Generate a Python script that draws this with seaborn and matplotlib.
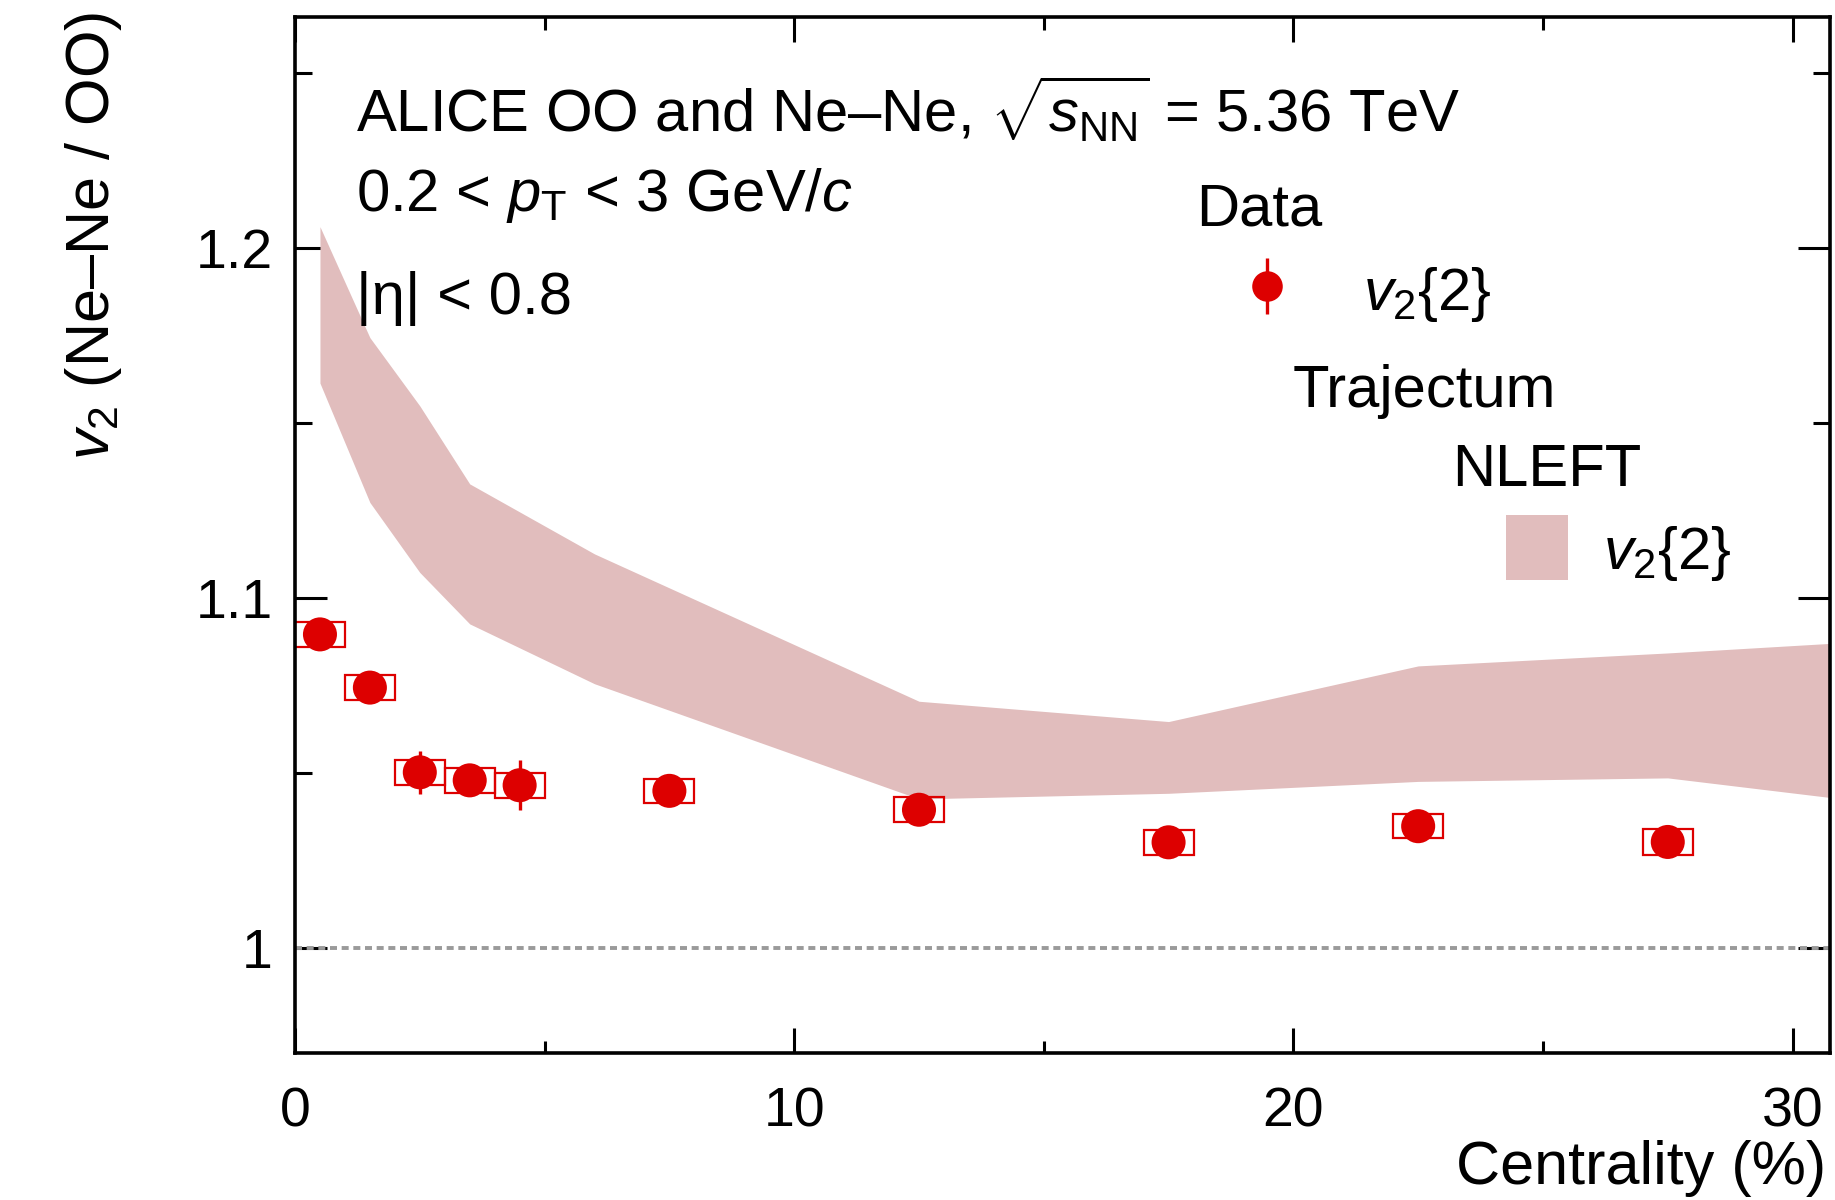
import matplotlib
matplotlib.use("Agg")
import matplotlib.pyplot as plt
import numpy as np
import pandas as pd
import seaborn as sns
from matplotlib.patches import Rectangle
from matplotlib.ticker import FixedLocator, FixedFormatter, MultipleLocator

# ---- data ----
centrality = [0.5, 1.5, 2.5, 3.5, 4.5, 7.5, 12.5, 17.5, 22.5, 27.5]
ratio = [1.0896, 1.0744, 1.0502, 1.0479, 1.0465, 1.0449, 1.0395, 1.0302, 1.0348, 1.0303]
stat_err = [0.0015, 0.0015, 0.0062, 0.0015, 0.0071, 0.0015, 0.0015, 0.0015, 0.0015, 0.0015]
sys_err = [0.0035, 0.0035, 0.0035, 0.0035, 0.0035, 0.0035, 0.0036, 0.0036, 0.0035, 0.0036]
bin_width = [1.0] * len(centrality)

nleft_x = [0.5, 1.5, 2.5, 3.5, 6.0, 12.5, 17.5, 22.5, 27.5, 32.5]
nleft_low = [1.1614, 1.1273, 1.1073, 1.0926, 1.0755, 1.0426, 1.0442, 1.0476, 1.0486, 1.0400]
nleft_high = [1.2061, 1.1744, 1.1549, 1.1326, 1.1126, 1.0705, 1.0647, 1.0806, 1.0843, 1.0885]

xticks = [0, 10, 20, 30]
xtick_labels = ["0", "10", "20", "30"]
yticks = [1.0, 1.1, 1.2]
ytick_labels = ["1", "1.1", "1.2"]

RED = "#dd0000"
BAND = "#e1bdbd"

df = pd.DataFrame({"centrality": centrality, "ratio": ratio})

sns.set_theme(style="ticks")
plt.rcParams["font.family"] = ["Liberation Sans", "DejaVu Sans"]
plt.rcParams["mathtext.fontset"] = "custom"
plt.rcParams["mathtext.rm"] = "Liberation Sans"
plt.rcParams["mathtext.it"] = "Liberation Sans:italic"
plt.rcParams["mathtext.bf"] = "Liberation Sans:bold"
for key in ["text.color", "axes.labelcolor", "xtick.color", "ytick.color", "axes.edgecolor"]:
    plt.rcParams[key] = "black"

fig = plt.figure(figsize=(18.35, 12), dpi=100)
ax = fig.add_axes([295 / 1835, 1 - 1053 / 1200, 1535 / 1835, 1036 / 1200])

# model band
ax.fill_between(nleft_x, nleft_low, nleft_high, color=BAND, lw=0, zorder=1)

# reference line at unity
ax.axhline(1.0, color="#9a9a9a", lw=2.8, ls=(0, (1.8, 1.2)), zorder=1)

# systematic boxes
ax.bar(centrality, [2 * s for s in sys_err], width=bin_width,
       bottom=[r - s for r, s in zip(ratio, sys_err)],
       fill=False, edgecolor=RED, lw=1.6, zorder=2)

# statistical errors + points
ax.errorbar(centrality, ratio, yerr=stat_err, fmt="none", ecolor=RED,
            elinewidth=2.4, capsize=0, zorder=3)
sns.scatterplot(data=df, x="centrality", y="ratio", ax=ax, color=RED,
                s=24.5 ** 2, edgecolor="none", zorder=4, legend=False)

ax.set_xlim(0, 30.75)
ax.set_ylim(0.97, 1.266)
ax.set_xlabel("")
ax.set_ylabel("")

ax.xaxis.set_major_locator(FixedLocator(xticks))
ax.xaxis.set_major_formatter(FixedFormatter(xtick_labels))
ax.xaxis.set_minor_locator(MultipleLocator(5))
ax.yaxis.set_major_locator(FixedLocator(yticks))
ax.yaxis.set_major_formatter(FixedFormatter(ytick_labels))
ax.yaxis.set_minor_locator(MultipleLocator(0.05))

for s in ax.spines.values():
    s.set_linewidth(2.6)
    s.set_color("black")
    s.set_visible(True)

ax.tick_params(axis="x", which="major", direction="in", length=18, width=2.2,
               top=True, bottom=True, labelsize=40, pad=24)
ax.tick_params(axis="x", which="minor", direction="in", length=9, width=2.2,
               top=True, bottom=True)
ax.tick_params(axis="y", which="major", direction="in", length=23, width=2.2,
               left=True, right=True, labelsize=40, pad=16)
ax.tick_params(axis="y", which="minor", direction="in", length=12, width=2.2,
               left=True, right=True)

# axis titles
fig.text(1826 / 1835, 1 - 1184 / 1200, "Centrality (%)", ha="right",
         va="baseline", fontsize=44)
fig.text(94 / 1835, 1 - 236 / 1200, r"$v_{2}$ (Ne–Ne / OO)", rotation=90,
         ha="center", va="center", fontsize=44)

# annotation text
tkw = dict(transform=ax.transAxes, ha="left", va="baseline", fontsize=43)
ax.text(0.040, 0.889, r"ALICE OO and Ne–Ne, $\sqrt{s_{\rm NN}}$ = 5.36 TeV", **tkw)
ax.text(0.040, 0.813, r"0.2 < $p_{\rm T}$ < 3 GeV/$c$", **tkw)
ax.text(0.040, 0.713, "|η| < 0.8", **tkw)

# legend, drawn by hand in ROOT style
ax.text(0.587, 0.799, "Data", **tkw)
ax.errorbar([0.633], [0.740], yerr=[0.027], fmt="o", color=RED, ms=22,
            mec="none", elinewidth=2.4, capsize=0, transform=ax.transAxes,
            clip_on=False, zorder=5)
ax.text(0.696, 0.717, r"$v_{2}${2}", **tkw)
ax.text(0.650, 0.624, "Trajectum", **tkw)
ax.text(0.754, 0.547, "NLEFT", **tkw)
ax.add_patch(Rectangle((0.789, 0.457), 0.040, 0.062, transform=ax.transAxes,
                       facecolor=BAND, edgecolor="none", zorder=5))
ax.text(0.852, 0.467, r"$v_{2}${2}", **tkw)

fig.savefig("out.png", dpi=100, facecolor="white")
